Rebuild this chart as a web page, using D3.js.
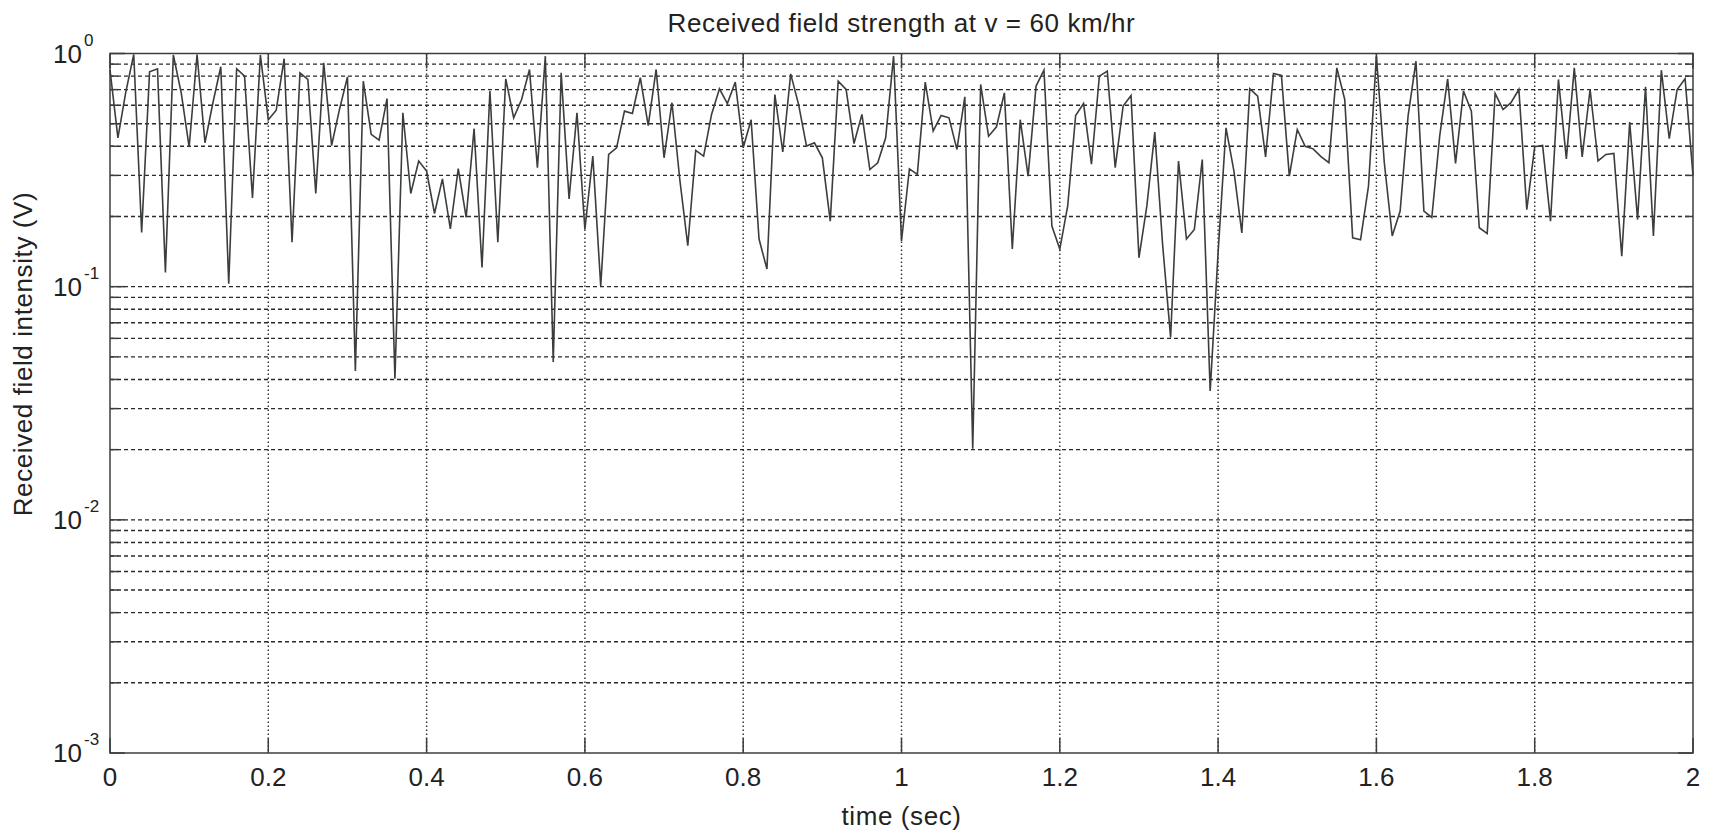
<!DOCTYPE html>
<html>
<head>
<meta charset="utf-8">
<script src="https://cdn.jsdelivr.net/npm/d3@7"></script>
<style>
    body { margin: 0; background: #fff; }
    svg text { font-family: "Liberation Sans", Arial, sans-serif; fill: #222; }
</style>
</head>
<body>
<svg id="chart-area" width="1716" height="837"></svg>
<script>
// received field strength (V), one sample every 10 ms from 0 to 2 sec
var sampleStep = 0.01;
var fieldStrength = [
    0.85, 0.435, 0.685, 0.99, 0.171, 0.835, 0.86, 0.115, 0.985, 0.678,
    0.397, 0.99, 0.414, 0.615, 0.877, 0.103, 0.86, 0.8, 0.24, 0.985,
    0.52, 0.571, 0.95, 0.155, 0.826, 0.774, 0.251, 0.912, 0.403, 0.577,
    0.794, 0.0435, 0.761, 0.45, 0.425, 0.641, 0.0403, 0.557, 0.251, 0.346,
    0.313, 0.206, 0.29, 0.177, 0.321, 0.198, 0.476, 0.121, 0.69, 0.155,
    0.779, 0.53, 0.635, 0.854, 0.324, 0.974, 0.0475, 0.826, 0.238, 0.557,
    0.176, 0.363, 0.1005, 0.369, 0.394, 0.566, 0.553, 0.787, 0.491, 0.854,
    0.357, 0.615, 0.286, 0.15, 0.384, 0.363, 0.548, 0.706, 0.61, 0.754,
    0.394, 0.52, 0.16, 0.119, 0.667, 0.378, 0.818, 0.604, 0.401, 0.414,
    0.357, 0.191, 0.761, 0.701, 0.411, 0.548, 0.318, 0.34, 0.435, 0.974,
    0.157, 0.32, 0.303, 0.754, 0.465, 0.542, 0.53, 0.388, 0.652, 0.0202,
    0.737, 0.442, 0.485, 0.678, 0.145, 0.52, 0.298, 0.725, 0.848, 0.182,
    0.145, 0.222, 0.542, 0.61, 0.335, 0.8, 0.84, 0.324, 0.595, 0.661,
    0.133, 0.222, 0.46, 0.15, 0.0605, 0.346, 0.16, 0.176, 0.351, 0.0357,
    0.14, 0.48, 0.313, 0.17, 0.706, 0.656, 0.36, 0.821, 0.805, 0.298,
    0.472, 0.4, 0.39, 0.361, 0.34, 0.868, 0.635, 0.162, 0.159, 0.27,
    0.974, 0.34, 0.165, 0.211, 0.539, 0.927, 0.211, 0.198, 0.443, 0.779,
    0.338, 0.69, 0.566, 0.179, 0.169, 0.674, 0.575, 0.615, 0.701, 0.214,
    0.398, 0.403, 0.191, 0.774, 0.353, 0.868, 0.36, 0.701, 0.346, 0.369,
    0.373, 0.135, 0.508, 0.194, 0.72, 0.165, 0.848, 0.431, 0.701, 0.779,
    0.3
];

var xTicks = [0, 0.2, 0.4, 0.6, 0.8, 1, 1.2, 1.4, 1.6, 1.8, 2];
var yDecades = [0, -1, -2, -3];          // labelled as 10^n
var yMinorSteps = [2, 3, 4, 5, 6, 7, 8, 9];

var titleText = "Received field strength at v = 60 km/hr";
var xLabelText = "time (sec)";
var yLabelText = "Received field intensity (V)";

var margin = {left: 110, top: 53.5, right: 23, bottom: 84};
var width = 1716 - margin.left - margin.right;
var height = 837 - margin.top - margin.bottom;

var svg = d3.select("#chart-area");
var g = svg.append("g")
    .attr("transform", "translate(" + margin.left + "," + margin.top + ")");

var xScale = d3.scaleLinear().domain([0, 2]).range([0, width]);
var yScale = d3.scaleLog().domain([0.001, 1]).range([height, 0]);

// log grid values: decades plus 2..9 in between
var gridValues = [];
yDecades.forEach(function (p) {
    if (p > -3) {
        yMinorSteps.forEach(function (m) { gridValues.push(m * Math.pow(10, p - 1)); });
    }
});
var majorValues = yDecades.map(function (p) { return Math.pow(10, p); });

// horizontal grid (dashed look)
g.selectAll(".hgrid")
    .data(gridValues.concat(majorValues.slice(1, 3)))
    .enter().append("line")
    .attr("class", "hgrid")
    .attr("x1", 0).attr("x2", width)
    .attr("y1", function (d) { return yScale(d); })
    .attr("y2", function (d) { return yScale(d); })
    .attr("stroke", "#2a2a2a")
    .attr("stroke-width", 1.4)
    .attr("stroke-dasharray", "4,3");

// vertical grid (dotted)
g.selectAll(".vgrid")
    .data(xTicks.slice(1, -1))
    .enter().append("line")
    .attr("class", "vgrid")
    .attr("x1", function (d) { return xScale(d); })
    .attr("x2", function (d) { return xScale(d); })
    .attr("y1", 0).attr("y2", height)
    .attr("stroke", "#2a2a2a")
    .attr("stroke-width", 1.4)
    .attr("stroke-dasharray", "1.5,2.5");

// the signal
var line = d3.line()
    .x(function (d, i) { return xScale(i * sampleStep); })
    .y(function (d) { return yScale(d); });

g.append("path")
    .datum(fieldStrength)
    .attr("fill", "none")
    .attr("stroke", "#3a3f3d")
    .attr("stroke-width", 1.6)
    .attr("stroke-linejoin", "miter")
    .attr("d", line);

// box
g.append("rect")
    .attr("width", width).attr("height", height)
    .attr("fill", "none")
    .attr("stroke", "#3a3f3d")
    .attr("stroke-width", 1.5);

// inward ticks, matlab style
var tickLen = 15, minorLen = 8;
var xTickG = g.append("g").attr("class", "x-ticks");
xTicks.forEach(function (t) {
    var x = xScale(t);
    xTickG.append("line").attr("x1", x).attr("x2", x).attr("y1", height).attr("y2", height - tickLen);
    xTickG.append("line").attr("x1", x).attr("x2", x).attr("y1", 0).attr("y2", tickLen);
});
var yTickG = g.append("g").attr("class", "y-ticks");
majorValues.forEach(function (v) {
    var y = yScale(v);
    yTickG.append("line").attr("x1", 0).attr("x2", tickLen).attr("y1", y).attr("y2", y);
    yTickG.append("line").attr("x1", width).attr("x2", width - tickLen).attr("y1", y).attr("y2", y);
});
gridValues.forEach(function (v) {
    var y = yScale(v);
    yTickG.append("line").attr("x1", 0).attr("x2", minorLen).attr("y1", y).attr("y2", y);
    yTickG.append("line").attr("x1", width).attr("x2", width - minorLen).attr("y1", y).attr("y2", y);
});
g.selectAll(".x-ticks line, .y-ticks line")
    .attr("stroke", "#3a3f3d").attr("stroke-width", 1.5);

// x tick labels
g.selectAll(".xlab")
    .data(xTicks)
    .enter().append("text")
    .attr("class", "xlab")
    .attr("x", function (d) { return xScale(d); })
    .attr("y", height + 33)
    .attr("text-anchor", "middle")
    .style("font-size", "26px")
    .text(function (d) { return d3.format("")(d); });

// y tick labels: 10 with superscript exponent
yDecades.forEach(function (p) {
    var y = yScale(Math.pow(10, p));
    g.append("text")
        .attr("x", -28).attr("y", y + 9)
        .attr("text-anchor", "end")
        .style("font-size", "26px")
        .text("10");
    g.append("text")
        .attr("x", -26).attr("y", y - 8)
        .attr("text-anchor", "start")
        .style("font-size", "17px")
        .text(p === 0 ? "0" : "-" + (-p));
});

// title and axis labels
svg.append("text")
    .attr("x", margin.left + width / 2).attr("y", 32)
    .attr("text-anchor", "middle")
    .style("font-size", "26px")
    .style("letter-spacing", "0.6px")
    .text(titleText);

svg.append("text")
    .attr("x", margin.left + width / 2).attr("y", 825)
    .attr("text-anchor", "middle")
    .style("font-size", "26px")
    .style("letter-spacing", "0.6px")
    .text(xLabelText);

svg.append("text")
    .attr("transform", "translate(32," + 354 + ") rotate(-90)")
    .attr("text-anchor", "middle")
    .style("font-size", "26px")
    .style("letter-spacing", "0.6px")
    .text(yLabelText);
</script>
</body>
</html>
